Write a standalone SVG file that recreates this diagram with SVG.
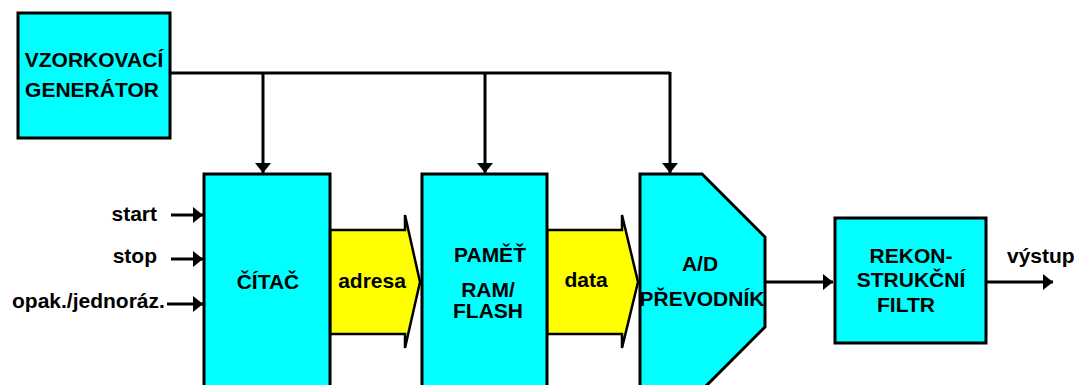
<svg xmlns="http://www.w3.org/2000/svg" width="1074" height="385" viewBox="0 0 1074 385">
<style>
.box{fill:#00FFFF;stroke:#000;stroke-width:3}
.bus{fill:#FFFF00;stroke:#000;stroke-width:2.5;stroke-linejoin:miter}
.ln{fill:none;stroke:#000;stroke-width:3}
text{font-family:"Liberation Sans",Arial,sans-serif;font-weight:bold;font-size:21px;fill:#000}
.m{text-anchor:middle}
.e{text-anchor:end}
</style>
<defs>
<marker id="ah" markerUnits="userSpaceOnUse" markerWidth="10" markerHeight="16" refX="10" refY="8" orient="auto" viewBox="0 0 10 16">
<path d="M0,0 L10,8 L0,16 z" fill="#000"/>
</marker>
</defs>
<rect width="1074" height="385" fill="#fff"/>
<g id="connectors">
<polyline class="ln" points="170,73 670,73"/>
<line class="ln" x1="263" y1="73" x2="263" y2="173" marker-end="url(#ah)"/>
<line class="ln" x1="485" y1="73" x2="485" y2="173" marker-end="url(#ah)"/>
<line class="ln" x1="670" y1="72" x2="670" y2="173" marker-end="url(#ah)"/>
<line class="ln" x1="171" y1="215" x2="203" y2="215" marker-end="url(#ah)"/>
<line class="ln" x1="171" y1="259" x2="203" y2="259" marker-end="url(#ah)"/>
<line class="ln" x1="167" y1="304" x2="203" y2="304" marker-end="url(#ah)"/>
<line class="ln" x1="765" y1="282" x2="833" y2="282" marker-end="url(#ah)"/>
<line class="ln" x1="986" y1="282" x2="1053" y2="282" marker-end="url(#ah)"/>
<g id="bus-adresa">
<polygon class="bus" points="330,230 405,230 405,215 420,282 405,348 405,334 330,334"/>
<text class="m" x="372" y="288">adresa</text>
</g>
<g id="bus-data">
<polygon class="bus" points="547,230 622,230 622,215 638,282 622,348 622,334 547,334"/>
<text class="m" x="586" y="287">data</text>
</g>
</g>
<g id="generator">
<rect class="box" x="18" y="13" width="152" height="125"/>
<text class="m" x="94" y="67">VZORKOVACÍ</text>
<text class="m" x="92" y="97">GENERÁTOR</text>
</g>
<g id="citac">
<rect class="box" x="204" y="174" width="126" height="230"/>
<text class="m" x="268" y="289">ČÍTAČ</text>
</g>
<g id="pamet">
<rect class="box" x="422" y="174" width="125" height="230"/>
<text class="m" x="490" y="262">PAMĚŤ</text>
<text class="m" x="488" y="297">RAM/</text>
<text class="m" x="488" y="318">FLASH</text>
</g>
<g id="prevodnik">
<polygon class="box" points="640,174 702,174 765,237 765,327 700,392 640,392"/>
<text class="m" x="700" y="271">A/D</text>
<text class="m" x="702" y="306">PŘEVODNÍK</text>
</g>
<g id="filtr">
<rect class="box" x="835" y="218" width="151" height="125"/>
<text class="m" x="911" y="263">REKON-</text>
<text class="m" x="911" y="287">STRUKČNÍ</text>
<text class="m" x="906" y="312">FILTR</text>
</g>
<g id="labels">
<text class="e" x="157" y="221">start</text>
<text class="e" x="157" y="263">stop</text>
<text x="12" y="308">opak./jednoráz.</text>
<text x="1007" y="263">výstup</text>
</g>
</svg>
